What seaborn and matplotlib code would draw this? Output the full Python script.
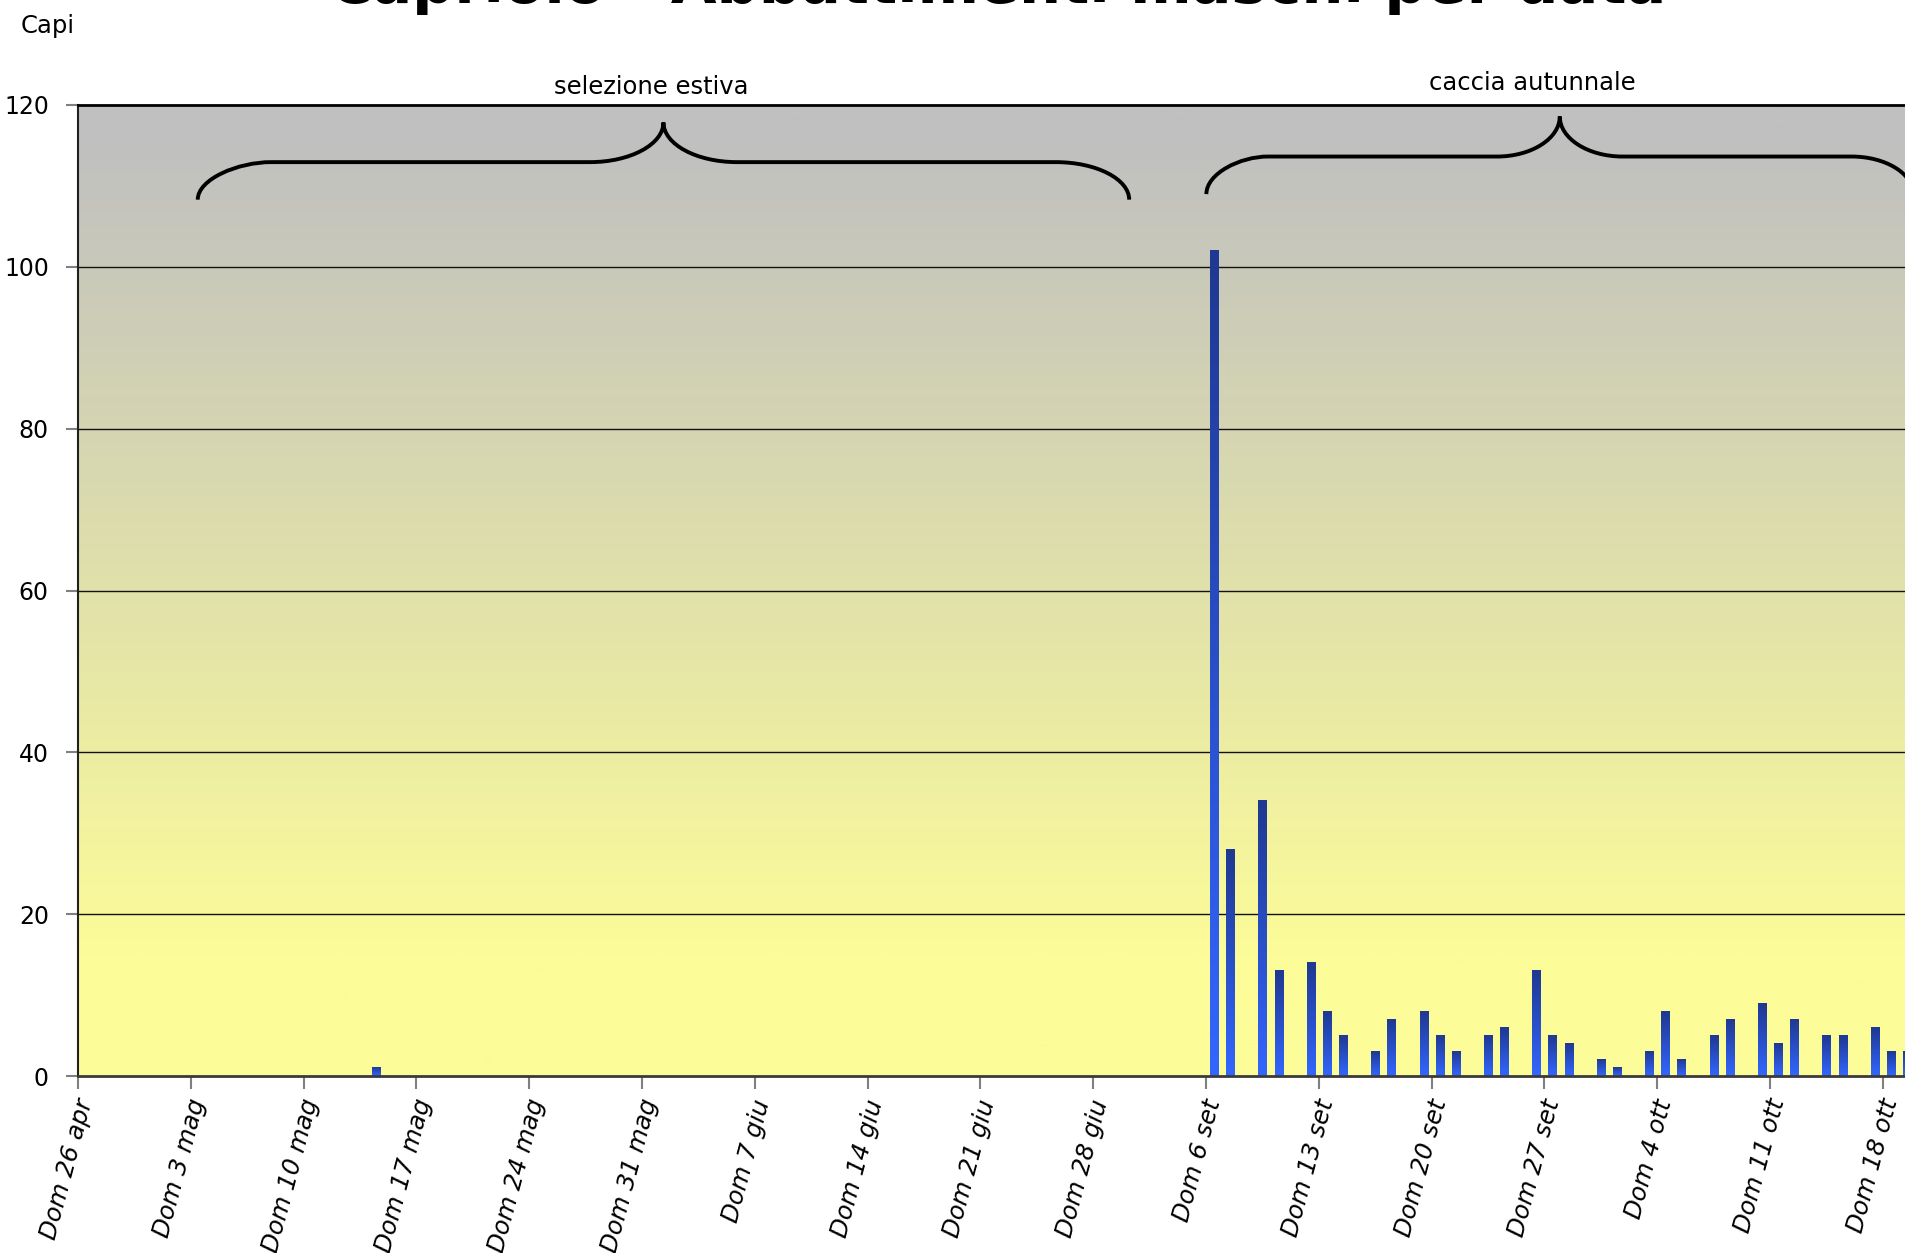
import numpy as np
import pandas as pd
import seaborn as sns
import matplotlib.pyplot as plt
import matplotlib.transforms as mtransforms
from matplotlib.path import Path
from matplotlib.patches import PathPatch

# ─── DATA ────────────────────────────────────────────────────────────────────
# days on the category axis: summer selection + autumn hunt (2009)
PERIODO_ESTIVO   = ("2009-04-26", "2009-07-04")
PERIODO_AUTUNNO  = ("2009-09-06", "2009-10-19")
MESI = {4: "apr", 5: "mag", 6: "giu", 7: "lug", 8: "ago", 9: "set", 10: "ott"}

# days with at least one animal culled
DATE_ABB = ["14 mag",
            "6 set", "7 set", "9 set", "10 set", "12 set", "13 set", "14 set",
            "16 set", "17 set", "19 set", "20 set", "21 set", "23 set", "24 set",
            "26 set", "27 set", "28 set", "30 set", "1 ott", "3 ott", "4 ott",
            "5 ott", "7 ott", "8 ott", "10 ott", "11 ott", "12 ott", "14 ott",
            "15 ott", "17 ott", "18 ott", "19 ott"]
CAPI_ABB = [1,
            102, 28, 34, 13, 14, 8, 5,
            3, 7, 8, 5, 3, 5, 6,
            13, 5, 4, 2, 1, 3, 8,
            2, 5, 7, 9, 4, 7, 5,
            5, 6, 3, 3]

TICK_LABELS = ["Dom 26 apr", "Dom 3 mag", "Dom 10 mag", "Dom 17 mag", "Dom 24 mag",
               "Dom 31 mag", "Dom 7 giu", "Dom 14 giu", "Dom 21 giu", "Dom 28 giu",
               "Dom 6 set", "Dom 13 set", "Dom 20 set", "Dom 27 set", "Dom 4 ott",
               "Dom 11 ott", "Dom 18 ott"]
Y_TICKS = [0, 20, 40, 60, 80, 100, 120]

TITLE = "Capriolo - Abbattimenti maschi per data"

# ─── STYLE ───────────────────────────────────────────────────────────────────
W, H = 1906, 1253
AX_L, AX_T, AX_B = 78, 105, 1076          # plot area in pixels
PX_PER_DAY = 16.115
BG_TOP, BG_BOTTOM = np.array([192, 192, 192]) / 255, np.array([252, 252, 153]) / 255
BAR_TOP, BAR_BOTTOM = np.array([31, 56, 145]) / 255, np.array([51, 102, 255]) / 255

sns.set_style("white")
plt.rcParams["font.family"] = ["DejaVu Sans"]
plt.rcParams["text.color"] = "black"
plt.rcParams["xtick.labelcolor"] = "black"
plt.rcParams["ytick.labelcolor"] = "black"


def label_giorni(start, end):
    return [f"{d.day} {MESI[d.month]}" for d in pd.date_range(start, end)]


def draw_brace(ax, x0, xa, xb, xc, y_end, y_h, y_peak):
    """Curly brace opening downwards, symmetric around xc."""
    k = 0.55
    x1, xa2, xb2 = 2 * xc - x0, 2 * xc - xa, 2 * xc - xb
    verts = [
        (x0, y_end),
        (x0, y_end + k * (y_h - y_end)), (x0 + k * (xa - x0), y_h), (xa, y_h),
        (xb, y_h),
        (xb + k * (xc - xb), y_h), (xc, y_h + (1 - k) * (y_peak - y_h)), (xc, y_peak),
        (xc, y_h + (1 - k) * (y_peak - y_h)), (xb2 - k * (xb2 - xc), y_h), (xb2, y_h),
        (xa2, y_h),
        (xa2 + k * (x1 - xa2), y_h), (x1, y_end + k * (y_h - y_end)), (x1, y_end),
    ]
    codes = [Path.MOVETO,
             Path.CURVE4, Path.CURVE4, Path.CURVE4,
             Path.LINETO,
             Path.CURVE4, Path.CURVE4, Path.CURVE4,
             Path.CURVE4, Path.CURVE4, Path.CURVE4,
             Path.LINETO,
             Path.CURVE4, Path.CURVE4, Path.CURVE4]
    ax.add_patch(PathPatch(Path(verts, codes), fill=False, lw=2.8,
                           edgecolor="black", zorder=5, capstyle="butt"))


giorni = label_giorni(*PERIODO_ESTIVO) + label_giorni(*PERIODO_AUTUNNO)
df = pd.DataFrame({"giorno": giorni})
df = df.merge(pd.DataFrame({"giorno": DATE_ABB, "capi": CAPI_ABB}),
              on="giorno", how="left").fillna({"capi": 0})

# ─── FIGURE ──────────────────────────────────────────────────────────────────
fig = plt.figure(figsize=(W / 100, H / 100), dpi=100)
ax = fig.add_axes([AX_L / W, 1 - AX_B / H, (W - AX_L) / W, (AX_B - AX_T) / H])

sns.barplot(data=df, x="giorno", y="capi", order=giorni, width=0.5,
            color="#3366FF", errorbar=None, ax=ax, zorder=2)

x_lo = -0.5
x_hi = x_lo + (W - AX_L) / PX_PER_DAY

# background gradient: grey on top fading to pale yellow
yy = np.linspace(120, 0, 400)
t = np.clip((115 - yy) / 100, 0, 1)[:, None]
bg = (BG_TOP * (1 - t) + BG_BOTTOM * t)[:, None, :]
ax.imshow(bg, extent=[x_lo, x_hi, 0, 120], aspect="auto", zorder=0,
          interpolation="bilinear")

# bars: vertical gradient dark navy -> bright blue
g = np.linspace(0, 1, 100)[:, None]
bar_grad = (BAR_TOP * (1 - g) + BAR_BOTTOM * g)[:, None, :]
for p in list(ax.patches):
    h = p.get_height()
    if h <= 0:
        p.set_visible(False)
        continue
    x = p.get_x()
    ax.imshow(bar_grad, extent=[x, x + p.get_width(), 0, h], aspect="auto",
              zorder=2, interpolation="bilinear")
    p.set_visible(False)

ax.set_xlim(x_lo, x_hi)
ax.set_ylim(0, 120)

# gridlines
for y in Y_TICKS[1:-1]:
    ax.axhline(y, color="#111111", lw=1.0, zorder=1)

# axes
ax.set_yticks(Y_TICKS)
ax.set_yticklabels([str(v) for v in Y_TICKS], fontsize=17)
tick_pos = [giorni.index(lbl.replace("Dom ", "")) - 0.5 for lbl in TICK_LABELS]
ax.set_xticks(tick_pos)
ax.set_xticklabels(TICK_LABELS, rotation=75, rotation_mode="anchor",
                   ha="right", va="center", fontsize=17.6, style="italic")
ax.tick_params(axis="x", length=9, width=1.5, color="#808080", pad=8, bottom=True)
ax.tick_params(axis="y", length=9, width=1.5, color="#808080", pad=12, left=True)
# nudge rotated date labels a little to the right (after tick_params, which resets transforms)
shift = mtransforms.ScaledTranslation(8 / 100, 0, fig.dpi_scale_trans)
for tick in ax.xaxis.get_major_ticks():
    tick.label1.set_transform(tick.label1.get_transform() + shift)
ax.set_xlabel("")
ax.set_ylabel("")

ax.spines["right"].set_visible(False)
ax.spines["top"].set_linewidth(2.0)
ax.spines["top"].set_color("black")
ax.spines["left"].set_linewidth(1.5)
ax.spines["left"].set_color("#202020")
ax.spines["bottom"].set_linewidth(2.0)
ax.spines["bottom"].set_color("#3a3a3a")
for s in ax.spines.values():
    s.set_zorder(6)

# season braces and labels
draw_brace(ax, 6.93, 11.48, 31.27, 35.83, 108.3, 112.94, 117.84)
draw_brace(ax, 69.52, 73.34, 87.55, 91.45, 108.99, 113.63, 118.58)
ax.text(35.1, 122.25, "selezione estiva", ha="center", va="center",
        fontsize=17.5, clip_on=False)
ax.text(89.73, 122.74, "caccia autunnale", ha="center", va="center",
        fontsize=17.5, clip_on=False)

# y label and (cropped) title
fig.text(21 / W, 1 - 33 / H, "Capi", ha="left", va="baseline", fontsize=17.5)
fig.text(998 / W, 1 - 3 / H, TITLE, ha="center", va="baseline",
         fontsize=42.5, fontweight="bold")

fig.savefig("out.png", dpi=100)
